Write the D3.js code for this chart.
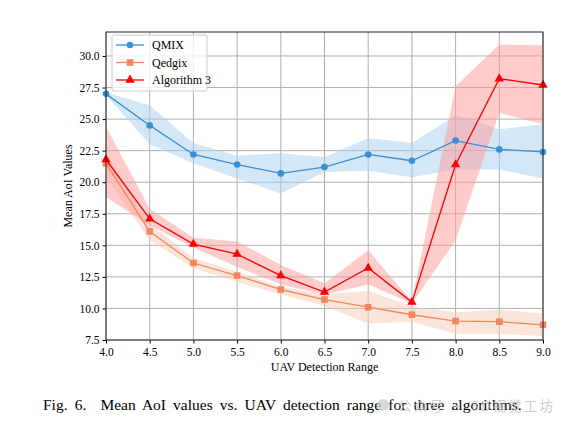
<!DOCTYPE html>
<html>
<head>
<meta charset="utf-8">
<script src="https://cdn.jsdelivr.net/npm/d3@7"></script>
<style>
  body { margin: 0; background: #fff; }
  svg text { font-family: "Liberation Serif", "Times New Roman", serif; }
</style>
</head>
<body>
<svg id="chart" width="572" height="428"></svg>
<script>
var ranges = [4.0, 4.5, 5.0, 5.5, 6.0, 6.5, 7.0, 7.5, 8.0, 8.5, 9.0];
var xTicks = [4.0, 4.5, 5.0, 5.5, 6.0, 6.5, 7.0, 7.5, 8.0, 8.5, 9.0];
var yTicks = [7.5, 10.0, 12.5, 15.0, 17.5, 20.0, 22.5, 25.0, 27.5, 30.0];

var qmix      = [27.0, 24.5, 22.2, 21.4, 20.7, 21.2, 22.2, 21.7, 23.3, 22.6, 22.4];
var qmixHi    = [27.1, 26.1, 23.1, 22.1, 22.3, 22.0, 23.5, 23.1, 25.3, 24.2, 24.6];
var qmixLo    = [26.9, 23.0, 21.5, 20.3, 19.1, 20.8, 20.9, 20.4, 21.0, 21.0, 20.3];

var qedgix    = [21.5, 16.1, 13.6, 12.6, 11.5, 10.7, 10.1, 9.5, 9.0, 8.95, 8.7];
var qedgixHi  = [22.2, 16.7, 14.0, 12.9, 11.7, 11.1, 11.4, 10.15, 9.7, 9.9, 9.6];
var qedgixLo  = [20.4, 15.4, 13.2, 12.1, 11.1, 10.2, 8.8, 8.95, 8.0, 8.0, 7.8];

var algo3     = [21.8, 17.1, 15.1, 14.3, 12.6, 11.3, 13.2, 10.5, 21.4, 28.2, 27.7];
var algo3Hi   = [24.4, 17.9, 15.6, 15.3, 13.45, 12.0, 14.6, 10.55, 27.6, 30.9, 30.85];
var algo3Lo   = [18.8, 16.6, 14.8, 13.3, 11.9, 11.1, 11.9, 10.4, 15.4, 25.5, 24.6];

var series = [
  {name: 'QMIX', vals: qmix, hi: qmixHi, lo: qmixLo, color: '#3a8fd6', fill: '#a9cfee', marker: 'circle'},
  {name: 'Qedgix', vals: qedgix, hi: qedgixHi, lo: qedgixLo, color: '#f4875f', fill: '#f8c9b4', marker: 'square'},
  {name: 'Algorithm 3', vals: algo3, hi: algo3Hi, lo: algo3Lo, color: '#ff0000', fill: '#ff9a9a', marker: 'triangle'}
];

var margin = {top: 32, right: 29, bottom: 88, left: 106};
var width = 572, height = 428;
var innerW = width - margin.left - margin.right;
var innerH = height - margin.top - margin.bottom;

var svg = d3.select('#chart');
var chart = svg.append('g')
  .attr('transform', `translate(${margin.left},${margin.top})`);

var xscale = d3.scaleLinear().domain([4, 9]).range([0, innerW]);
var yscale = d3.scaleLinear().domain([7.5, 31.9]).range([innerH, 0]);

// grid
chart.append('g').selectAll('line')
  .data(xTicks).enter().append('line')
  .attr('x1', d => xscale(d)).attr('x2', d => xscale(d))
  .attr('y1', 0).attr('y2', innerH)
  .attr('stroke', '#b0b0b0').attr('stroke-width', 1);
chart.append('g').selectAll('line')
  .data(yTicks).enter().append('line')
  .attr('x1', 0).attr('x2', innerW)
  .attr('y1', d => yscale(d)).attr('y2', d => yscale(d))
  .attr('stroke', '#b0b0b0').attr('stroke-width', 1);

// bands
var area = d3.area()
  .x((d, i) => xscale(ranges[i]))
  .y0(d => yscale(d[0]))
  .y1(d => yscale(d[1]));

series.forEach(s => {
  var band = s.lo.map((v, i) => [v, s.hi[i]]);
  chart.append('path')
    .datum(band)
    .attr('d', area)
    .attr('fill', s.fill)
    .attr('fill-opacity', 0.5)
    .attr('stroke', 'none');
});

var line = d3.line()
  .x((d, i) => xscale(ranges[i]))
  .y(d => yscale(d));

var symbols = {circle: d3.symbolCircle, square: d3.symbolSquare, triangle: d3.symbolTriangle};
var symSize = {circle: 34, square: 44, triangle: 38};

series.forEach(s => {
  chart.append('path')
    .datum(s.vals)
    .attr('d', line)
    .attr('fill', 'none')
    .attr('stroke', s.color)
    .attr('stroke-width', 1.3);
  chart.append('g').selectAll('path')
    .data(s.vals).enter().append('path')
    .attr('d', d3.symbol().type(symbols[s.marker]).size(symSize[s.marker]))
    .attr('transform', (d, i) => `translate(${xscale(ranges[i])},${yscale(d)})`)
    .attr('fill', s.color);
});

// axes
var xaxis = d3.axisBottom(xscale).tickValues(xTicks).tickFormat(d3.format('.1f')).tickSize(3.5).tickSizeOuter(0);
var yaxis = d3.axisLeft(yscale).tickValues(yTicks).tickFormat(d3.format('.1f')).tickSize(3.5).tickSizeOuter(0);

var gx = chart.append('g').attr('transform', `translate(0,${innerH})`).call(xaxis);
var gy = chart.append('g').call(yaxis);
[gx, gy].forEach(g => {
  g.attr('font-family', null).attr('font-size', null);
  g.select('.domain').remove();
  g.selectAll('text').attr('font-size', 11.5).attr('fill', '#000');
  g.selectAll('line').attr('stroke', '#000');
});
gx.selectAll('text').attr('dy', '0.85em');

chart.append('rect')
  .attr('width', innerW).attr('height', innerH)
  .attr('fill', 'none').attr('stroke', '#222').attr('stroke-width', 1);

// labels
svg.append('text')
  .attr('x', margin.left + innerW / 2).attr('y', 371)
  .attr('text-anchor', 'middle').attr('font-size', 12)
  .text('UAV Detection Range');
svg.append('text')
  .attr('transform', `translate(72,${margin.top + innerH / 2}) rotate(-90)`)
  .attr('text-anchor', 'middle').attr('font-size', 12)
  .text('Mean AoI Values');

// legend
var legend = svg.append('g').attr('transform', 'translate(112,35)');
legend.append('rect')
  .attr('width', 95).attr('height', 56).attr('rx', 2)
  .attr('fill', '#fff').attr('fill-opacity', 0.8)
  .attr('stroke', '#ccc');
series.forEach((s, i) => {
  var y = 10 + i * 17.5;
  legend.append('line')
    .attr('x1', 4).attr('x2', 32).attr('y1', y).attr('y2', y)
    .attr('stroke', s.color).attr('stroke-width', 1.3);
  legend.append('path')
    .attr('d', d3.symbol().type(symbols[s.marker]).size(symSize[s.marker])())
    .attr('transform', `translate(18,${y})`)
    .attr('fill', s.color);
  legend.append('text')
    .attr('x', 40).attr('y', y + 4)
    .attr('font-size', 12)
    .text(s.name);
});

// caption
svg.append('text')
  .attr('x', 43).attr('y', 410)
  .attr('font-size', 15.5)
  .attr('word-spacing', 3.2)
  .attr('xml:space', 'preserve')
  .text('Fig. 6.  Mean AoI values vs. UAV detection range for three algorithms.');

// watermark
svg.append('circle')
  .attr('cx', 383).attr('cy', 405).attr('r', 6)
  .attr('fill', '#d0d0d0').attr('fill-opacity', 0.8);
svg.append('text')
  .attr('x', 398).attr('y', 411)
  .attr('font-size', 13.5)
  .attr('textLength', 155)
  .attr('lengthAdjust', 'spacing')
  .attr('fill', '#c4c4c4')
  .attr('fill-opacity', 0.85)
  .style('font-family', '"Noto Sans CJK SC", sans-serif')
  .text('公众号 · 3D视觉工坊');
</script>
</body>
</html>
